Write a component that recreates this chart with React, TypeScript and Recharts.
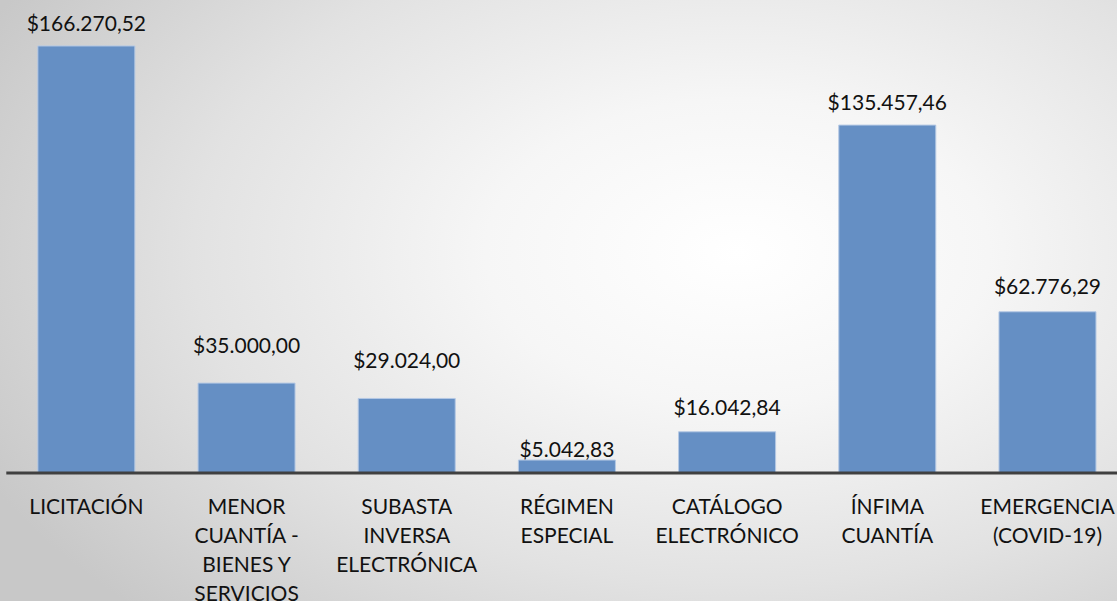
import { BarChart, Bar, XAxis, YAxis, LabelList } from 'recharts'

const categories = [
  'LICITACIÓN',
  'MENOR\nCUANTÍA -\nBIENES Y\nSERVICIOS',
  'SUBASTA\nINVERSA\nELECTRÓNICA',
  'RÉGIMEN\nESPECIAL',
  'CATÁLOGO\nELECTRÓNICO',
  'ÍNFIMA\nCUANTÍA',
  'EMERGENCIA\n(COVID-19)',
]

const amounts = [166270.52, 35000.0, 29024.0, 5042.83, 16042.84, 135457.46, 62776.29]

// gap between bar top and label baseline, labels were hand-placed in the original
const labelGap = [15, 30, 30, 3, 17, 15, 18]

const data = categories.map((name, i) => ({ name, value: amounts[i] }))

const FONT = 'Lato, "Noto Sans", sans-serif'

function formatMoney(v: number) {
  const [int, dec] = v.toFixed(2).split('.')
  const grouped = int.replace(/\B(?=(\d{3})+(?!\d))/g, '.')
  return `$${grouped},${dec}`
}

function CategoryTick({ x, y, payload }: any) {
  const lines = String(payload.value).split('\n')
  return (
    <text x={x} y={y} textAnchor="middle" fill="#111" fontFamily={FONT} fontSize={21}>
      {lines.map((line, i) => (
        <tspan key={i} x={x} dy={i === 0 ? 41 : 29}>
          {line}
        </tspan>
      ))}
    </text>
  )
}

function ValueLabel({ x, y, width, value, index }: any) {
  return (
    <text
      x={x + width / 2}
      y={y - labelGap[index]}
      textAnchor="middle"
      fill="#111"
      fontFamily={FONT}
      fontSize={21}
    >
      {formatMoney(value)}
    </text>
  )
}

export default function App() {
  return (
    <div
      style={{
        position: 'absolute',
        left: 0,
        top: 0,
        width: 1117,
        height: 601,
        overflow: 'hidden',
        background:
          'radial-gradient(ellipse 75% 85% at 66% 42%, #ffffff 0%, #f6f6f6 30%, #e2e2e2 65%, #c8c8c8 100%)',
      }}
    >
      <BarChart
        width={1131}
        height={601}
        data={data}
        margin={{ top: 10.7, right: 3.4, left: 6.3, bottom: 0 }}
        barCategoryGap="19.7%"
      >
        <YAxis hide domain={[0, 180000]} />
        <XAxis
          dataKey="name"
          height={128}
          interval={0}
          tickLine={false}
          tickSize={0}
          tickMargin={0}
          axisLine={{ stroke: '#404040', strokeWidth: 3 }}
          tick={<CategoryTick />}
        />
        <Bar dataKey="value" fill="#658fc4" stroke="#b4c8e4" strokeWidth={1} isAnimationActive={false}>
          <LabelList dataKey="value" content={<ValueLabel />} />
        </Bar>
      </BarChart>
    </div>
  )
}
